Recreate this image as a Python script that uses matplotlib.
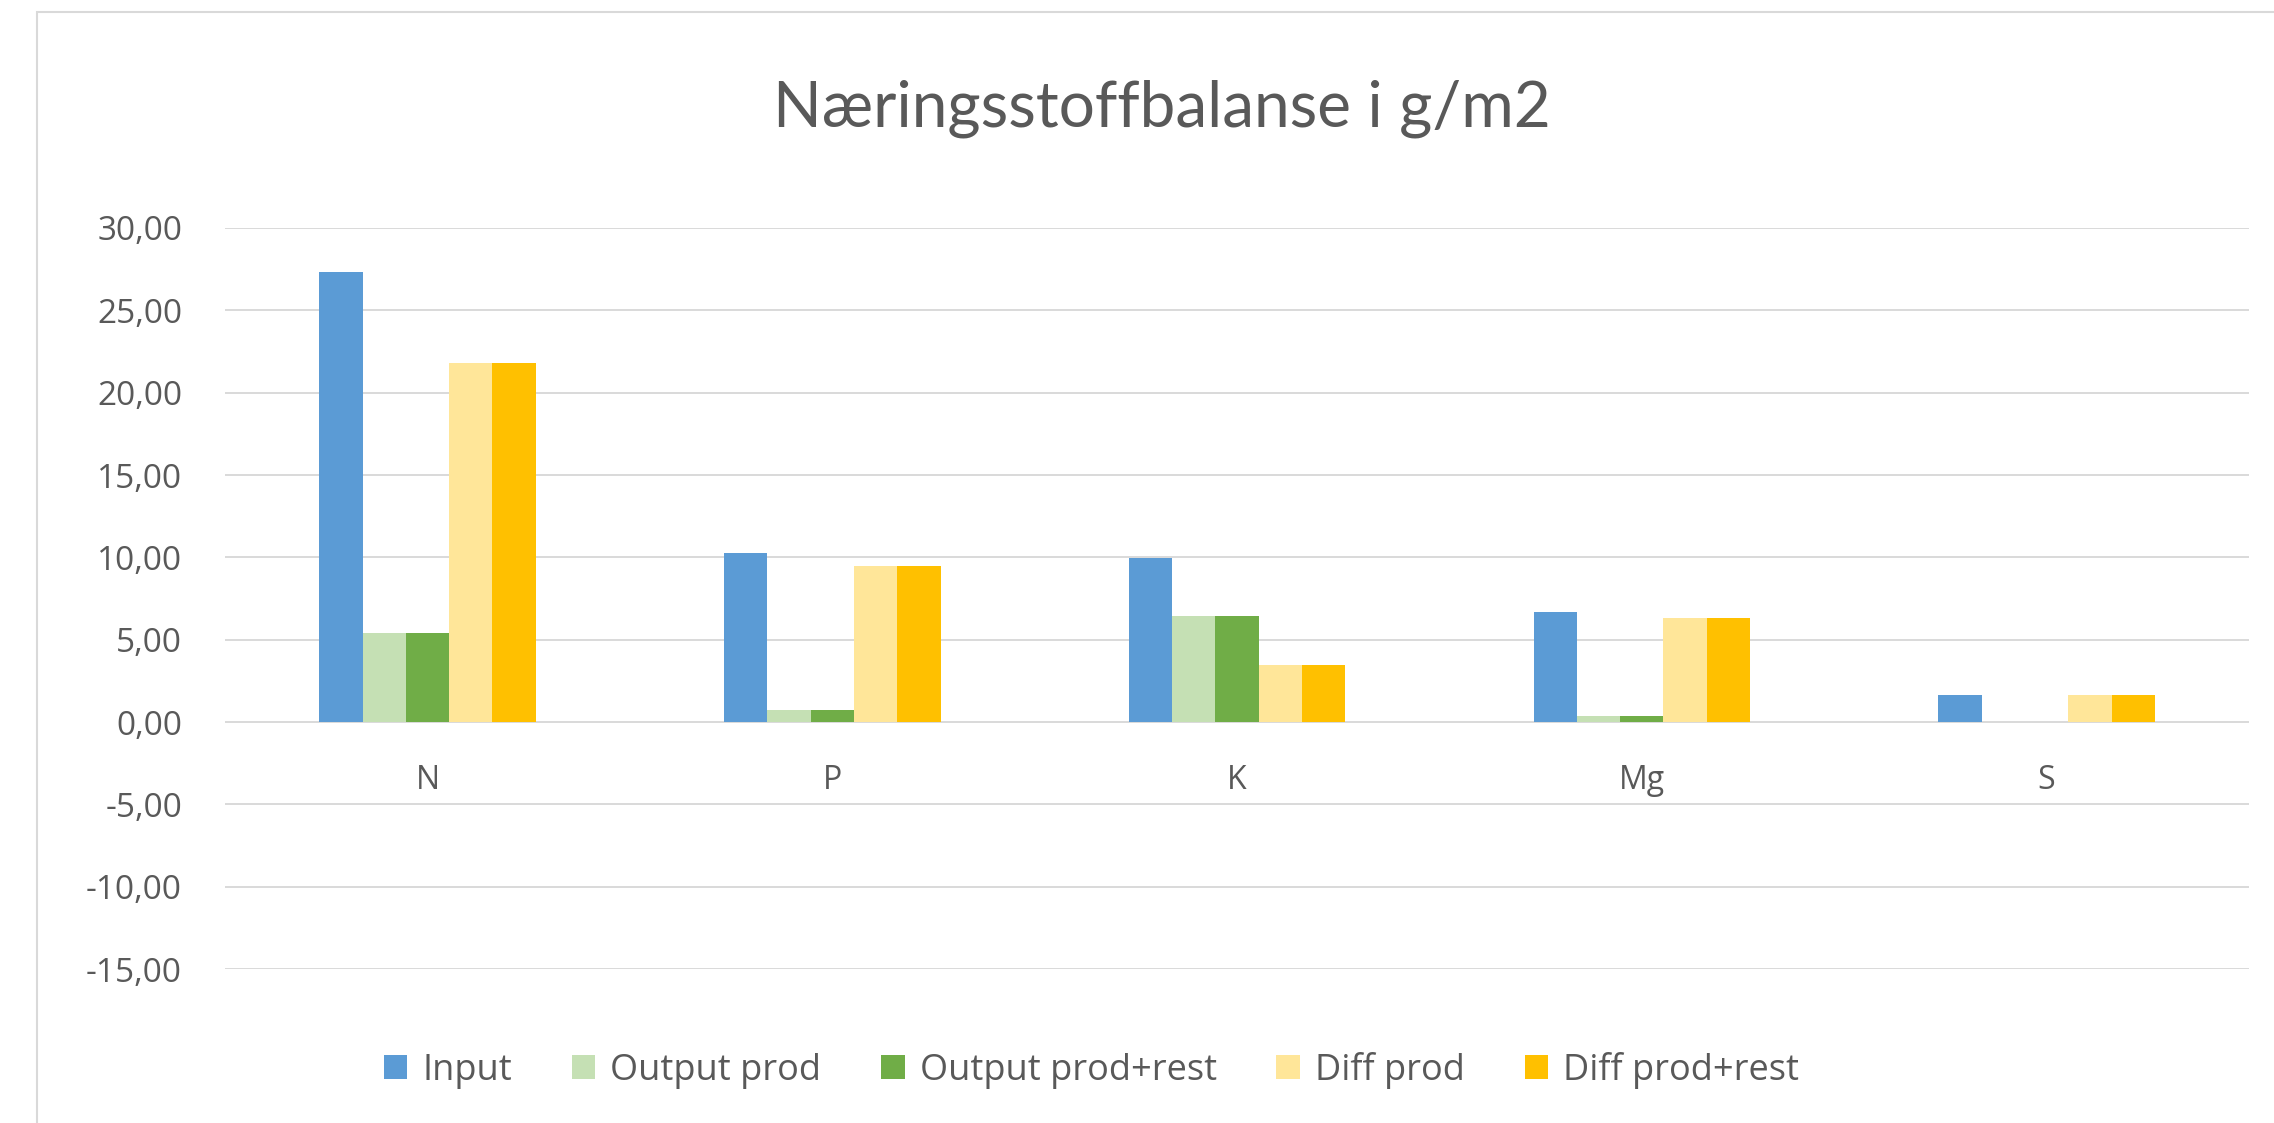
import numpy as np
import matplotlib.pyplot as plt
from matplotlib.patches import Rectangle
from matplotlib.ticker import FuncFormatter

categories = ['N', 'P', 'K', 'Mg', 'S']
input_vals = [27.3, 10.25, 9.95, 6.7, 1.65]
output_prod = [5.4, 0.75, 6.45, 0.35, 0.0]
output_prod_rest = [5.4, 0.75, 6.45, 0.4, 0.0]
diff_prod = [21.8, 9.5, 3.45, 6.3, 1.65]
diff_prod_rest = [21.8, 9.5, 3.45, 6.3, 1.65]

series_names = ['Input', 'Output prod', 'Output prod+rest', 'Diff prod', 'Diff prod+rest']
series_vals = [input_vals, output_prod, output_prod_rest, diff_prod, diff_prod_rest]
colors = ['#5B9BD5', '#C5E0B4', '#70AD47', '#FFE699', '#FFC000']

plt.rcParams['font.family'] = ['Open Sans', 'DejaVu Sans']
text_col = '#595959'
grid_col = '#D9D9D9'

fig = plt.figure(figsize=(22.74, 11.23), dpi=100)
# chart area border (left and top edges visible)
fig.patches.append(Rectangle((37 / 2274, -0.1), 1.2, 1.1 - 12 / 1123,
                             transform=fig.transFigure, fill=False,
                             edgecolor=grid_col, lw=1.5))

ax = fig.add_axes([0.099, 0.137, 0.89, 0.66])

x = np.arange(len(categories))
w = 0.107
for i, (name, vals, c) in enumerate(zip(series_names, series_vals, colors)):
    ax.bar(x + (i - 2) * w, vals, width=w, color=c, label=name, zorder=3)

ax.set_xlim(-0.5, len(categories) - 0.5)
ax.set_ylim(-15, 30)
ax.set_yticks(np.arange(-15, 31, 5))
ax.yaxis.set_major_formatter(FuncFormatter(lambda v, p: f'{v:.2f}'.replace('.', ',')))
ax.grid(axis='y', color=grid_col, lw=1.4, zorder=0)
ax.set_xticks([])
ax.tick_params(axis='y', length=0, pad=31, labelsize=24, labelcolor=text_col)
for s in ax.spines.values():
    s.set_visible(False)

for xi, cat in zip(x, categories):
    ax.annotate(cat, xy=(xi, 0), xytext=(0, -30), textcoords='offset points',
                ha='center', va='top', fontsize=23, color=text_col)

fig.text(0.511, 0.903, 'Næringsstoffbalanse i g/m2', ha='center', va='center',
         fontsize=46, color=text_col, family=['Lato', 'DejaVu Sans'])

ax.legend(loc='center', bbox_to_anchor=(0.48, 0.047), bbox_transform=fig.transFigure,
          ncol=5, frameon=False, fontsize=26, handlelength=0.65, handleheight=0.65,
          handletextpad=0.42, columnspacing=1.65, labelcolor=text_col)

fig.savefig('out.png', dpi=100, facecolor='white')
